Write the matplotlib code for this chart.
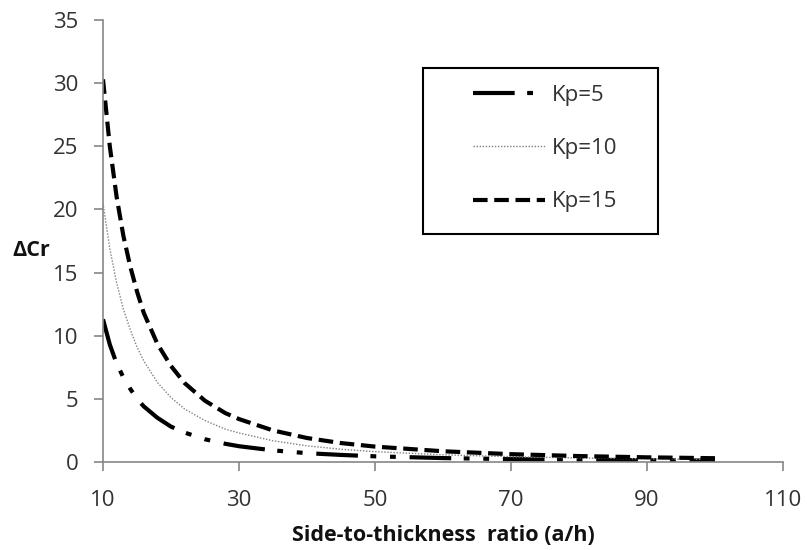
import matplotlib
matplotlib.use("Agg")
import matplotlib.pyplot as plt
from matplotlib.patches import Rectangle

x_ratio = [10, 11, 12, 13, 14, 15, 16, 18, 20, 22, 25, 28, 30, 35, 40, 45, 50, 60, 70, 80, 90, 100]
kp5 = [11.3, 9.3, 7.8, 6.7, 5.8, 5.0, 4.4, 3.5, 2.8, 2.33, 1.8, 1.44, 1.25, 0.92, 0.7, 0.56, 0.45, 0.31, 0.23, 0.18, 0.14, 0.11]
kp10 = [20.5, 16.9, 14.2, 12.1, 10.5, 9.1, 8.0, 6.3, 5.1, 4.2, 3.28, 2.6, 2.3, 1.68, 1.28, 1.01, 0.82, 0.57, 0.42, 0.32, 0.25, 0.2]
kp15 = [30.3, 25.0, 21.0, 17.9, 15.5, 13.5, 11.8, 9.35, 7.6, 6.25, 4.85, 3.87, 3.4, 2.5, 1.9, 1.5, 1.22, 0.85, 0.62, 0.47, 0.37, 0.3]
labels = ["Kp=5", "Kp=10", "Kp=15"]
xticks = [10, 30, 50, 70, 90, 110]
yticks = [0, 5, 10, 15, 20, 25, 30, 35]

plt.rcParams['font.family'] = ['Open Sans', 'DejaVu Sans']

W, H = 807, 550
fig = plt.figure(figsize=(W / 100, H / 100), dpi=100)
ax = fig.add_axes([103 / W, 1 - 462 / H, 680 / W, 442 / H])

ax.plot(x_ratio, kp5, color='black', lw=3, dashes=(10, 3, 1.4, 3.3, 1.4, 3.3), label=labels[0])
ax.plot(x_ratio, kp10, color='#808080', lw=1, dashes=(1, 1.2), label=labels[1])
ax.plot(x_ratio, kp15, color='black', lw=3, dashes=(3.5, 1.6), label=labels[2])

ax.set_xlim(10, 110)
ax.set_ylim(0, 35)
ax.set_xticks(xticks)
ax.set_yticks(yticks)
for s in ['top', 'right']:
    ax.spines[s].set_visible(False)
for s in ['left', 'bottom']:
    ax.spines[s].set_color('#868686')
    ax.spines[s].set_linewidth(1.2)
ax.tick_params(axis='both', colors='#868686', length=6.5, width=1.2, labelsize=16, labelcolor='#333333')
ax.tick_params(axis='x', pad=14)
ax.tick_params(axis='y', pad=11)

ax.set_xlabel("Side-to-thickness  ratio (a/h)", fontsize=15.5, fontweight='bold', color='#111111')
ax.xaxis.set_label_coords(0.5, -0.143)
ax.set_ylabel("ΔCr", fontsize=15.5, fontweight='bold', color='#111111', rotation=0, va='center', ha='center')
ax.yaxis.set_label_coords(-0.105, 0.478)

# legend frame
fig.patches.append(Rectangle((423 / W, 1 - 234 / H), 235 / W, 166 / H, transform=fig.transFigure,
                             facecolor='none', edgecolor='black', linewidth=1.5))

leg = ax.legend(loc='upper left', bbox_to_anchor=(473 / W, 1 - 85 / H), bbox_transform=fig.transFigure,
                frameon=False, fontsize=16, handlelength=3.24, handletextpad=0.32,
                labelspacing=1.45, borderpad=0, borderaxespad=0)
for t in leg.get_texts():
    t.set_color('#333333')

fig.savefig("out.png", dpi=100, facecolor='white')
